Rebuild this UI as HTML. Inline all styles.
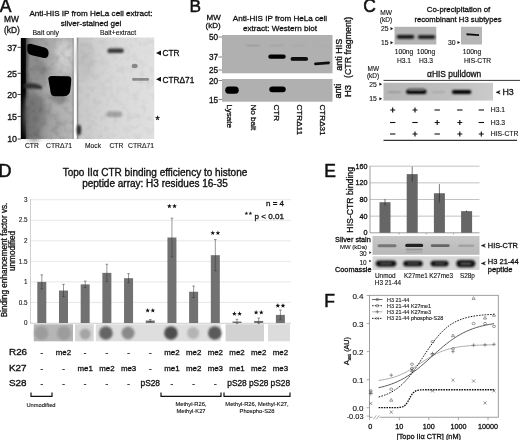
<!DOCTYPE html>
<html><head><meta charset="utf-8"><style>
html,body{margin:0;padding:0;background:#fff;width:520px;height:440px;overflow:hidden}
svg{display:block;will-change:transform}
text{font-family:"Liberation Sans",sans-serif;stroke:#111}
</style></head><body>
<svg width="520" height="440" viewBox="0 0 520 440">
<defs>
<filter id="b1" x="-50%" y="-50%" width="200%" height="200%"><feGaussianBlur stdDeviation="1.2"/></filter>
<filter id="b2" x="-50%" y="-50%" width="200%" height="200%"><feGaussianBlur stdDeviation="0.6"/></filter>
<filter id="b3" x="-50%" y="-50%" width="200%" height="200%"><feGaussianBlur stdDeviation="2.5"/></filter>
<filter id="b4" x="-50%" y="-50%" width="200%" height="200%"><feGaussianBlur stdDeviation="0.9"/></filter>
<linearGradient id="gA1" x1="0" x2="1" y1="0" y2="0"><stop offset="0" stop-color="#000"/><stop offset="0.085" stop-color="#080808"/><stop offset="0.11" stop-color="#5a5a5a"/><stop offset="0.17" stop-color="#8a8a8a"/><stop offset="0.35" stop-color="#9c9c9c"/><stop offset="0.6" stop-color="#adadad"/><stop offset="0.96" stop-color="#b6b6b6"/><stop offset="1" stop-color="#8a8a8a"/></linearGradient>
<linearGradient id="gA2" x1="0" x2="1" y1="0" y2="0"><stop offset="0" stop-color="#777"/><stop offset="0.03" stop-color="#c8c8c8"/><stop offset="0.5" stop-color="#d8d8d8"/><stop offset="1" stop-color="#e0e0e0"/></linearGradient>
<filter id="tex" x="0" y="0" width="100%" height="100%"><feTurbulence type="fractalNoise" baseFrequency="0.15" numOctaves="2" seed="7" result="n"/><feColorMatrix in="n" type="matrix" values="0 0 0 0 0  0 0 0 0 0  0 0 0 0 0  0 0 0 -1.6 0.9"/><feComposite in2="SourceGraphic" operator="in"/></filter>
<linearGradient id="gC2" x1="0" x2="1" y1="0" y2="0"><stop offset="0" stop-color="#b6b6b6"/><stop offset="0.6" stop-color="#bfbfbf"/><stop offset="1" stop-color="#cbcbcb"/></linearGradient>
<linearGradient id="gE1" x1="0" x2="0" y1="0" y2="1"><stop offset="0" stop-color="#c8c8c8"/><stop offset="1" stop-color="#b8b8b8"/></linearGradient>
</defs>
<text x="-0.2" y="12.2" font-size="17.5" text-anchor="start" fill="#111" stroke-width="0.5" >A</text>
<text x="189.6" y="12.3" font-size="17.3" text-anchor="start" fill="#111" stroke-width="0.5" >B</text>
<text x="363.3" y="12.3" font-size="17.5" text-anchor="start" fill="#111" stroke-width="0.5" >C</text>
<text x="-1.6" y="176.8" font-size="18" text-anchor="start" fill="#111" stroke-width="0.5" >D</text>
<text x="324.3" y="176.8" font-size="17.5" text-anchor="start" fill="#111" stroke-width="0.5" >E</text>
<text x="324.3" y="307.3" font-size="17.5" text-anchor="start" fill="#111" stroke-width="0.5" >F</text>
<text x="4" y="21.5" font-size="8.4" text-anchor="start" fill="#111" stroke-width="0.3" >MW</text>
<text x="4" y="33.3" font-size="8.4" text-anchor="start" fill="#111" stroke-width="0.3" >(kD)</text>
<text x="91" y="16.2" font-size="8.1" text-anchor="middle" fill="#111" stroke-width="0.3" >Anti-HIS IP from HeLa cell extract:</text>
<text x="91" y="25.8" font-size="8.1" text-anchor="middle" fill="#111" stroke-width="0.3" >silver-stained gel</text>
<text x="32.5" y="34.7" font-size="6.9" text-anchor="start" fill="#111" stroke-width="0.12" >Bait only</text>
<text x="100" y="34.7" font-size="6.8" text-anchor="start" fill="#111" stroke-width="0.12" >Bait+extract</text>
<rect x="20.8" y="38" width="53" height="101" fill="url(#gA1)"/>
<ellipse cx="34" cy="118" rx="11" ry="24" fill="#666" filter="url(#b3)" opacity="0.65"/>
<ellipse cx="38" cy="72" rx="9" ry="12" fill="#888" filter="url(#b3)" opacity="0.5"/>
<ellipse cx="50" cy="125" rx="12" ry="14" fill="#999" filter="url(#b3)" opacity="0.5"/>
<ellipse cx="64" cy="60" rx="8" ry="14" fill="#ddd" filter="url(#b3)" opacity="0.5"/>
<ellipse cx="42" cy="68" rx="3.5" ry="10" fill="#777" filter="url(#b3)" opacity="0.5" transform="rotate(-20 42 68)"/>
<ellipse cx="30" cy="100" rx="5" ry="8" fill="#777" filter="url(#b3)" opacity="0.5"/>
<path d="M24,84 Q34,82 42,86 L42,89 Q34,89 24,88 Z" fill="#333" filter="url(#b4)"/>
<path d="M27.3,46 Q27.3,43.6 30.5,43.8 L44.5,47.5 Q48.6,48.8 48.6,53 Q48.6,58.3 44,58 L33,55.5 Q27.3,54.3 27.3,50.5 Z" fill="#000" filter="url(#b2)"/>
<ellipse cx="64" cy="50" rx="9" ry="10" fill="#e0e0e0" filter="url(#b3)" opacity="0.45"/>
<ellipse cx="59" cy="98" rx="9" ry="5" fill="#666" filter="url(#b3)" opacity="0.6"/>
<ellipse cx="36" cy="112" rx="12" ry="18" fill="#777" filter="url(#b3)" opacity="0.35"/>
<path d="M48.3,79 Q48.3,76 52,76 L68,76.3 Q71.4,76.4 71.3,80 L70.6,88 Q70.2,96.3 64,96.3 L55,96.3 Q50.2,96.3 50.2,89.5 Z" fill="#000" filter="url(#b2)"/>
<rect x="76.8" y="37.5" width="77.5" height="101.5" fill="url(#gA2)"/>
<ellipse cx="85" cy="60" rx="10" ry="20" fill="#bbb" filter="url(#b3)" opacity="0.6"/>
<ellipse cx="79" cy="130" rx="2.3" ry="5.5" fill="#333" filter="url(#b4)"/>
<rect x="107.35" y="48.50" width="16.50" height="4.60" rx="2.30" fill="#3a3a3a" filter="url(#b4)"/>
<rect x="106.30" y="111.30" width="16.00" height="6.00" rx="3.00" fill="#a6a6a6" filter="url(#b1)"/>
<rect x="132.00" y="78.10" width="17.00" height="2.60" rx="1.30" fill="#8c8c8c" filter="url(#b2)"/>
<ellipse cx="134.7" cy="66" rx="3" ry="2.2" fill="#888" filter="url(#b2)"/>
<rect x="24" y="38" width="49" height="101" fill="#000" filter="url(#tex)" opacity="0.16"/>
<rect x="78" y="38" width="76" height="101" fill="#000" filter="url(#tex)" opacity="0.07"/>
<text x="17" y="50.5" font-size="8.9" text-anchor="end" fill="#111" stroke-width="0.3" >37</text>
<line x1="17.6" y1="47.3" x2="20.8" y2="47.3" stroke="#111" stroke-width="0.8"/>
<text x="17" y="76.5" font-size="8.9" text-anchor="end" fill="#111" stroke-width="0.3" >25</text>
<line x1="17.6" y1="73.3" x2="20.8" y2="73.3" stroke="#111" stroke-width="0.8"/>
<text x="17" y="97.7" font-size="8.9" text-anchor="end" fill="#111" stroke-width="0.3" >20</text>
<line x1="17.6" y1="94.5" x2="20.8" y2="94.5" stroke="#111" stroke-width="0.8"/>
<text x="17" y="119.7" font-size="8.9" text-anchor="end" fill="#111" stroke-width="0.3" >15</text>
<line x1="17.6" y1="116.5" x2="20.8" y2="116.5" stroke="#111" stroke-width="0.8"/>
<text x="17" y="142.2" font-size="8.9" text-anchor="end" fill="#111" stroke-width="0.3" >10</text>
<line x1="17.6" y1="139" x2="20.8" y2="139" stroke="#111" stroke-width="0.8"/>
<text x="25" y="148.3" font-size="6.7" text-anchor="start" fill="#111" stroke-width="0.12" >CTR</text>
<text x="46" y="148.3" font-size="6.8" text-anchor="start" fill="#111" stroke-width="0.12" >CTRΔ71</text>
<text x="85" y="148.3" font-size="6.7" text-anchor="start" fill="#111" stroke-width="0.12" >Mock</text>
<text x="109.5" y="148.3" font-size="6.7" text-anchor="start" fill="#111" stroke-width="0.12" >CTR</text>
<text x="128" y="148.3" font-size="6.8" text-anchor="start" fill="#111" stroke-width="0.12" >CTRΔ71</text>
<path d="M156,53 L161,50.5 L161,55.5 Z" fill="#111"/>
<text x="162.5" y="56" font-size="8.3" text-anchor="start" fill="#111" stroke-width="0.3" >CTR</text>
<path d="M156,79.3 L161,76.8 L161,81.8 Z" fill="#111"/>
<text x="162.5" y="82.5" font-size="8.3" text-anchor="start" fill="#111" stroke-width="0.3" >CTRΔ71</text>
<text x="155.5" y="124" font-size="10.5" text-anchor="start" fill="#111" stroke-width="0.35" >*</text>
<text x="206.5" y="19.6" font-size="8.0" text-anchor="start" fill="#111" stroke-width="0.3" >MW</text>
<text x="205.6" y="28.4" font-size="8.0" text-anchor="start" fill="#111" stroke-width="0.3" >(kD)</text>
<text x="280" y="21.3" font-size="8.1" text-anchor="middle" fill="#111" stroke-width="0.3" >Anti-HIS IP from HeLa cell</text>
<text x="280" y="30.8" font-size="8.1" text-anchor="middle" fill="#111" stroke-width="0.3" >extract: Western blot</text>
<rect x="222" y="35" width="110.5" height="38.3" fill="#b0b0b0"/>
<rect x="222" y="79" width="110.5" height="22.7" fill="#b0b0b0"/>
<text x="218" y="40" font-size="8.2" text-anchor="end" fill="#111" stroke-width="0.3" >50</text>
<line x1="218.5" y1="37" x2="222" y2="37" stroke="#333" stroke-width="0.6"/>
<text x="218" y="60" font-size="8.2" text-anchor="end" fill="#111" stroke-width="0.3" >37</text>
<line x1="218.5" y1="57" x2="222" y2="57" stroke="#333" stroke-width="0.6"/>
<text x="218" y="73" font-size="8.2" text-anchor="end" fill="#111" stroke-width="0.3" >25</text>
<line x1="218.5" y1="70" x2="222" y2="70" stroke="#333" stroke-width="0.6"/>
<text x="218" y="83.5" font-size="8.2" text-anchor="end" fill="#111" stroke-width="0.3" >20</text>
<line x1="218.5" y1="80.5" x2="222" y2="80.5" stroke="#333" stroke-width="0.6"/>
<text x="218" y="102.5" font-size="8.2" text-anchor="end" fill="#111" stroke-width="0.3" >15</text>
<line x1="218.5" y1="99.5" x2="222" y2="99.5" stroke="#333" stroke-width="0.6"/>
<rect x="268.25" y="54.55" width="17.50" height="4.30" rx="2.15" fill="#050505" filter="url(#b2)"/>
<rect x="290.55" y="57.00" width="17.50" height="3.80" rx="1.90" fill="#080808" filter="url(#b2)"/>
<path d="M315,62.6 L329,61.6 Q331,62.6 329,64.2 L315,65.2 Q313,63.9 315,62.6 Z" fill="#111" filter="url(#b2)"/>
<rect x="246.00" y="44.80" width="14.00" height="1.40" rx="0.70" fill="#959595" filter="url(#b4)"/>
<rect x="270.00" y="44.85" width="14.00" height="1.30" rx="0.65" fill="#a0a0a0" filter="url(#b4)"/>
<rect x="292.50" y="44.90" width="14.00" height="1.20" rx="0.60" fill="#a6a6a6" filter="url(#b4)"/>
<rect x="315.00" y="44.90" width="14.00" height="1.20" rx="0.60" fill="#aaaaaa" filter="url(#b4)"/>
<rect x="225.25" y="86.60" width="13.50" height="7.20" rx="3.60" fill="#000" filter="url(#b2)"/>
<rect x="269.25" y="86.40" width="16.50" height="5.80" rx="2.90" fill="#000" filter="url(#b2)"/>
<text x="0" y="0" font-size="8.1" fill="#111" text-anchor="start" stroke-width="0.3" transform="translate(227.3,104.5) rotate(90)">Lysate</text>
<text x="0" y="0" font-size="8.1" fill="#111" text-anchor="start" stroke-width="0.3" transform="translate(250.8,104.5) rotate(90)">No bait</text>
<text x="0" y="0" font-size="8.1" fill="#111" text-anchor="start" stroke-width="0.3" transform="translate(274.2,104.5) rotate(90)">CTR</text>
<text x="0" y="0" font-size="8.1" fill="#111" text-anchor="start" stroke-width="0.3" transform="translate(297.3,104.5) rotate(90)">CTRΔ11</text>
<text x="0" y="0" font-size="8.1" fill="#111" text-anchor="start" stroke-width="0.3" transform="translate(320.3,104.5) rotate(90)">CTRΔ31</text>
<text x="0" y="0" font-size="9.0" fill="#111" text-anchor="middle" stroke-width="0.35" transform="translate(341.7,54.7) rotate(-90)">anti HIS</text>
<text x="0" y="0" font-size="8.8" fill="#111" text-anchor="middle" stroke-width="0.3" transform="translate(350.5,47.4) rotate(-90)">(CTR fragment)</text>
<text x="0" y="0" font-size="9.2" fill="#111" text-anchor="middle" stroke-width="0.35" transform="translate(341.3,91.2) rotate(-90)">anti</text>
<text x="0" y="0" font-size="9.5" fill="#111" text-anchor="middle" stroke-width="0.35" transform="translate(351,91) rotate(-90)">H3</text>
<text x="380.3" y="14.7" font-size="6.6" text-anchor="start" fill="#111" stroke-width="0.12" >MW</text>
<text x="379.8" y="22.3" font-size="6.6" text-anchor="start" fill="#111" stroke-width="0.12" >(kD)</text>
<text x="458.5" y="12.3" font-size="7.8" text-anchor="middle" fill="#111" stroke-width="0.3" >Co-precipitation of</text>
<text x="458" y="22" font-size="7.7" text-anchor="middle" fill="#111" stroke-width="0.3" >recombinant H3 subtypes</text>
<rect x="394.5" y="26.8" width="41.8" height="17.7" fill="#b4b4b4"/>
<rect x="396.75" y="35.10" width="17.50" height="3.60" rx="1.80" fill="#0a0a0a" filter="url(#b4)"/>
<rect x="417.75" y="35.15" width="17.50" height="3.50" rx="1.75" fill="#0a0a0a" filter="url(#b4)"/>
<rect x="461" y="26.8" width="21" height="17.7" fill="#b6b6b6"/>
<path d="M466.5,33.2 L479,34.2 L479,36 L466.5,35.2 Z" fill="#111" filter="url(#b2)"/>
<text x="388.5" y="31.0" font-size="6.8" text-anchor="end" fill="#111" stroke-width="0.12" >25</text>
<path d="M390.5,27.085 L393.16,28.7 L390.5,30.314999999999998 Z" fill="#111"/>
<text x="388.5" y="45.0" font-size="6.8" text-anchor="end" fill="#111" stroke-width="0.12" >15</text>
<path d="M390.5,41.085 L393.16,42.7 L390.5,44.315000000000005 Z" fill="#111"/>
<text x="455.5" y="45" font-size="6.8" text-anchor="end" fill="#111" stroke-width="0.12" >30</text>
<path d="M457.5,40.885 L460.16,42.5 L457.5,44.115 Z" fill="#111"/>
<text x="404" y="54.2" font-size="6.7" text-anchor="middle" fill="#111" stroke-width="0.12" >100ng</text>
<text x="404" y="62.5" font-size="6.7" text-anchor="middle" fill="#111" stroke-width="0.12" >H3.1</text>
<text x="426" y="54.2" font-size="6.7" text-anchor="middle" fill="#111" stroke-width="0.12" >100ng</text>
<text x="426" y="62.5" font-size="6.7" text-anchor="middle" fill="#111" stroke-width="0.12" >H3.3</text>
<text x="472" y="54.2" font-size="6.7" text-anchor="middle" fill="#111" stroke-width="0.12" >100ng</text>
<text x="477.5" y="62.5" font-size="6.7" text-anchor="middle" fill="#111" stroke-width="0.12" >HIS-CTR</text>
<text x="367.6" y="70.9" font-size="6.5" text-anchor="start" fill="#111" stroke-width="0.12" >MW</text>
<text x="366.9" y="78.2" font-size="6.5" text-anchor="start" fill="#111" stroke-width="0.12" >(kD)</text>
<text x="454.2" y="77" font-size="8.4" text-anchor="middle" fill="#111" stroke-width="0.3" >αHIS pulldown</text>
<line x1="383.5" y1="80.4" x2="520" y2="80.4" stroke="#222" stroke-width="0.9"/>
<rect x="383.5" y="82.8" width="109.5" height="17.8" fill="url(#gC2)"/>
<rect x="387.80" y="91.50" width="13.00" height="1.60" rx="0.80" fill="#909090" filter="url(#b4)"/>
<rect x="406.05" y="89.50" width="20.50" height="4.60" rx="2.30" fill="#000" filter="url(#b4)"/>
<rect x="408.30" y="88.25" width="16.00" height="2.50" rx="1.25" fill="#777" filter="url(#b4)"/>
<rect x="432.00" y="91.55" width="13.00" height="1.50" rx="0.75" fill="#a2a2a2" filter="url(#b4)"/>
<rect x="451.85" y="89.90" width="19.50" height="4.00" rx="2.00" fill="#000" filter="url(#b4)"/>
<text x="376.8" y="87" font-size="6.8" text-anchor="end" fill="#111" stroke-width="0.12" >25</text>
<path d="M379.4,82.58500000000001 L382.06,84.2 L379.4,85.815 Z" fill="#111"/>
<text x="376.8" y="101.3" font-size="6.8" text-anchor="end" fill="#111" stroke-width="0.12" >15</text>
<path d="M379.4,97.185 L382.06,98.8 L379.4,100.41499999999999 Z" fill="#111"/>
<path d="M496,92.3 L500.2,90.6 L499,92.3 L500.2,94 Z" fill="#111" stroke="#111" stroke-width="0.45"/>
<text x="502.4" y="94.9" font-size="8.9" text-anchor="start" fill="#111" stroke-width="0.3" >H3</text>
<path d="M390.2,110 H395.2 M392.7,107.5 V112.5" stroke="#111" stroke-width="1.15"/>
<path d="M412.5,110 H417.5 M415,107.5 V112.5" stroke="#111" stroke-width="1.15"/>
<path d="M434.5,110 H439.9" stroke="#111" stroke-width="1.1"/>
<path d="M457.1,110 H462.5" stroke="#111" stroke-width="1.1"/>
<path d="M478.6,110 H484.0" stroke="#111" stroke-width="1.1"/>
<text x="490.8" y="112.2" font-size="6.8" text-anchor="start" fill="#111" stroke-width="0.12" >H3.1</text>
<path d="M390.0,122.5 H395.4" stroke="#111" stroke-width="1.1"/>
<path d="M412.3,122.5 H417.7" stroke="#111" stroke-width="1.1"/>
<path d="M434.7,122.5 H439.7 M437.2,120.0 V125.0" stroke="#111" stroke-width="1.15"/>
<path d="M457.3,122.5 H462.3 M459.8,120.0 V125.0" stroke="#111" stroke-width="1.15"/>
<path d="M478.6,122.5 H484.0" stroke="#111" stroke-width="1.1"/>
<text x="490.8" y="124.7" font-size="6.8" text-anchor="start" fill="#111" stroke-width="0.12" >H3.3</text>
<path d="M390.0,134 H395.4" stroke="#111" stroke-width="1.1"/>
<path d="M412.5,134 H417.5 M415,131.5 V136.5" stroke="#111" stroke-width="1.15"/>
<path d="M434.5,134 H439.9" stroke="#111" stroke-width="1.1"/>
<path d="M457.3,134 H462.3 M459.8,131.5 V136.5" stroke="#111" stroke-width="1.15"/>
<path d="M478.8,134 H483.8 M481.3,131.5 V136.5" stroke="#111" stroke-width="1.15"/>
<text x="490.8" y="136.2" font-size="6.8" text-anchor="start" fill="#111" stroke-width="0.12" >HIS-CTR</text>
<line x1="383.5" y1="140.4" x2="517" y2="140.4" stroke="#333" stroke-width="1.1"/>
<text x="155" y="175.5" font-size="10.0" text-anchor="middle" fill="#111" stroke-width="0.35" >Topo IIα CTR binding efficiency to histone</text>
<text x="155" y="187.3" font-size="10.0" text-anchor="middle" fill="#111" stroke-width="0.35" >peptide array: H3 residues 16-35</text>
<text x="27.5" y="325.2" font-size="6.3" text-anchor="end" fill="#222" stroke-width="0.12" >0</text>
<line x1="30.5" y1="302.45" x2="291" y2="302.45" stroke="#dcdcdc" stroke-width="0.7"/>
<text x="27.5" y="304.65" font-size="6.3" text-anchor="end" fill="#222" stroke-width="0.12" >0.5</text>
<line x1="30.5" y1="281.9" x2="291" y2="281.9" stroke="#dcdcdc" stroke-width="0.7"/>
<text x="27.5" y="284.09999999999997" font-size="6.3" text-anchor="end" fill="#222" stroke-width="0.12" >1</text>
<line x1="30.5" y1="261.35" x2="291" y2="261.35" stroke="#dcdcdc" stroke-width="0.7"/>
<text x="27.5" y="263.55" font-size="6.3" text-anchor="end" fill="#222" stroke-width="0.12" >1.5</text>
<line x1="30.5" y1="240.8" x2="291" y2="240.8" stroke="#dcdcdc" stroke-width="0.7"/>
<text x="27.5" y="243.0" font-size="6.3" text-anchor="end" fill="#222" stroke-width="0.12" >2</text>
<line x1="30.5" y1="220.25" x2="291" y2="220.25" stroke="#dcdcdc" stroke-width="0.7"/>
<text x="27.5" y="222.45" font-size="6.3" text-anchor="end" fill="#222" stroke-width="0.12" >2.5</text>
<line x1="30.5" y1="199.7" x2="291" y2="199.7" stroke="#dcdcdc" stroke-width="0.7"/>
<text x="27.5" y="201.89999999999998" font-size="6.3" text-anchor="end" fill="#222" stroke-width="0.12" >3</text>
<line x1="30.5" y1="199" x2="30.5" y2="323.5" stroke="#bbb" stroke-width="0.7"/>
<line x1="30.5" y1="323.3" x2="291" y2="323.3" stroke="#bbb" stroke-width="0.7"/>
<text x="0" y="0" font-size="8.2" fill="#111" text-anchor="middle" stroke-width="0.3" transform="translate(6.6,260) rotate(-90)">Binding enhancement factor vs.</text>
<text x="0" y="0" font-size="8.2" fill="#111" text-anchor="middle" stroke-width="0.3" transform="translate(15.0,251) rotate(-90)">unmodified</text>
<rect x="37.30" y="281.90" width="9" height="41.10" fill="#717171"/>
<path d="M41.80,274.91 V288.89 M40.50,274.91 H43.10 M40.50,288.89 H43.10" stroke="#333" stroke-width="0.5"/>
<rect x="58.99" y="290.53" width="9" height="32.47" fill="#717171"/>
<path d="M63.49,284.37 V296.70 M62.19,284.37 H64.79 M62.19,296.70 H64.79" stroke="#333" stroke-width="0.5"/>
<rect x="80.68" y="284.37" width="9" height="38.63" fill="#717171"/>
<path d="M85.18,281.08 V287.65 M83.88,281.08 H86.48 M83.88,287.65 H86.48" stroke="#333" stroke-width="0.5"/>
<rect x="102.37" y="272.86" width="9" height="50.14" fill="#717171"/>
<path d="M106.87,264.23 V281.49 M105.57,264.23 H108.17 M105.57,281.49 H108.17" stroke="#333" stroke-width="0.5"/>
<rect x="124.06" y="278.20" width="9" height="44.80" fill="#717171"/>
<path d="M128.56,273.68 V282.72 M127.26,273.68 H129.86 M127.26,282.72 H129.86" stroke="#333" stroke-width="0.5"/>
<rect x="145.75" y="320.53" width="9" height="2.47" fill="#717171"/>
<path d="M150.25,319.51 V321.56 M148.95,319.51 H151.55 M148.95,321.56 H151.55" stroke="#333" stroke-width="0.5"/>
<polygon points="147.65,308.05 148.27,309.65 149.98,309.74 148.65,310.82 149.09,312.48 147.65,311.55 146.21,312.48 146.65,310.82 145.32,309.74 147.03,309.65" fill="#111"/>
<polygon points="152.85,308.05 153.47,309.65 155.18,309.74 153.85,310.82 154.29,312.48 152.85,311.55 151.41,312.48 151.85,310.82 150.52,309.74 152.23,309.65" fill="#111"/>
<rect x="167.44" y="237.51" width="9" height="85.49" fill="#717171"/>
<path d="M171.94,218.19 V256.83 M170.64,218.19 H173.24 M170.64,256.83 H173.24" stroke="#333" stroke-width="0.5"/>
<polygon points="169.34,203.75 169.96,205.35 171.67,205.44 170.34,206.52 170.78,208.18 169.34,207.25 167.90,208.18 168.34,206.52 167.01,205.44 168.72,205.35" fill="#111"/>
<polygon points="174.54,203.75 175.16,205.35 176.87,205.44 175.54,206.52 175.98,208.18 174.54,207.25 173.10,208.18 173.54,206.52 172.21,205.44 173.92,205.35" fill="#111"/>
<rect x="189.13" y="291.76" width="9" height="31.24" fill="#717171"/>
<path d="M193.63,286.01 V297.52 M192.33,286.01 H194.93 M192.33,297.52 H194.93" stroke="#333" stroke-width="0.5"/>
<rect x="210.82" y="255.19" width="9" height="67.81" fill="#717171"/>
<path d="M215.32,239.57 V270.80 M214.02,239.57 H216.62 M214.02,270.80 H216.62" stroke="#333" stroke-width="0.5"/>
<polygon points="212.72,230.55 213.34,232.15 215.05,232.24 213.72,233.32 214.16,234.98 212.72,234.05 211.28,234.98 211.72,233.32 210.39,232.24 212.10,232.15" fill="#111"/>
<polygon points="217.92,230.55 218.54,232.15 220.25,232.24 218.92,233.32 219.36,234.98 217.92,234.05 216.48,234.98 216.92,233.32 215.59,232.24 217.30,232.15" fill="#111"/>
<rect x="232.51" y="321.56" width="9" height="1.44" fill="#717171"/>
<path d="M237.01,319.30 V323.82 M235.71,319.30 H238.31 M235.71,323.82 H238.31" stroke="#333" stroke-width="0.5"/>
<polygon points="234.41,311.35 235.03,312.95 236.74,313.04 235.41,314.12 235.85,315.78 234.41,314.85 232.97,315.78 233.41,314.12 232.08,313.04 233.79,312.95" fill="#111"/>
<polygon points="239.61,311.35 240.23,312.95 241.94,313.04 240.61,314.12 241.05,315.78 239.61,314.85 238.17,315.78 238.61,314.12 237.28,313.04 238.99,312.95" fill="#111"/>
<rect x="254.20" y="320.94" width="9" height="2.06" fill="#717171"/>
<path d="M258.70,318.07 V323.82 M257.40,318.07 H260.00 M257.40,323.82 H260.00" stroke="#333" stroke-width="0.5"/>
<polygon points="256.10,310.05 256.72,311.65 258.43,311.74 257.10,312.82 257.54,314.48 256.10,313.55 254.66,314.48 255.10,312.82 253.77,311.74 255.48,311.65" fill="#111"/>
<polygon points="261.30,310.05 261.92,311.65 263.63,311.74 262.30,312.82 262.74,314.48 261.30,313.55 259.86,314.48 260.30,312.82 258.97,311.74 260.68,311.65" fill="#111"/>
<rect x="275.89" y="314.90" width="9" height="8.10" fill="#717171"/>
<path d="M280.39,309.97 V319.84 M279.09,309.97 H281.69 M279.09,319.84 H281.69" stroke="#333" stroke-width="0.5"/>
<polygon points="277.79,303.25 278.41,304.85 280.12,304.94 278.79,306.02 279.23,307.68 277.79,306.75 276.35,307.68 276.79,306.02 275.46,304.94 277.17,304.85" fill="#111"/>
<polygon points="282.99,303.25 283.61,304.85 285.32,304.94 283.99,306.02 284.43,307.68 282.99,306.75 281.55,307.68 281.99,306.02 280.66,304.94 282.37,304.85" fill="#111"/>
<text x="284" y="205.8" font-size="8" text-anchor="end" fill="#111" stroke-width="0.3" >n = 4</text>
<text x="284" y="218.8" font-size="8.1" text-anchor="end" fill="#111" stroke-width="0.3" >p &lt; 0.01</text>
<polygon points="246.40,211.50 246.87,212.75 248.21,212.81 247.16,213.65 247.52,214.94 246.40,214.20 245.28,214.94 245.64,213.65 244.59,212.81 245.93,212.75" fill="#111"/>
<polygon points="250.40,211.50 250.87,212.75 252.21,212.81 251.16,213.65 251.52,214.94 250.40,214.20 249.28,214.94 249.64,213.65 248.59,212.81 249.93,212.75" fill="#111"/>
<rect x="33.75" y="324.3" width="39.25" height="17" fill="#b6b6b6"/>
<rect x="75" y="324.3" width="18.75" height="17" fill="#d6d6d6"/>
<rect x="95.75" y="324.3" width="124.95" height="17" fill="#dedede"/>
<rect x="225.6" y="324.3" width="38.40" height="17" fill="#d2d2d2"/>
<rect x="268" y="324.3" width="22.00" height="17" fill="#dcdcdc"/>
<circle cx="41.30" cy="333" r="7" fill="#9c9c9c" filter="url(#b1)"/>
<circle cx="63.99" cy="333" r="7" fill="#9c9c9c" filter="url(#b1)"/>
<circle cx="85.18" cy="334" r="5.5" fill="#a4a4a4" filter="url(#b1)"/>
<circle cx="105.87" cy="333" r="6.8" fill="#656565" filter="url(#b1)"/>
<circle cx="128.06" cy="333" r="6.5" fill="#8a8a8a" filter="url(#b1)"/>
<circle cx="170.94" cy="333" r="6.8" fill="#4e4e4e" filter="url(#b1)"/>
<circle cx="193.13" cy="333" r="6" fill="#b4b4b4" filter="url(#b1)"/>
<circle cx="214.82" cy="333" r="6.8" fill="#5a5a5a" filter="url(#b1)"/>
<text x="9" y="354.5" font-size="9.9" text-anchor="start" fill="#111" stroke-width="0.35" >R26</text>
<text x="41.8" y="354.5" font-size="7.9" text-anchor="middle" fill="#111" stroke-width="0.3" >-</text>
<text x="63.489999999999995" y="354.5" font-size="7.9" text-anchor="middle" fill="#111" stroke-width="0.3" >me2</text>
<text x="85.18" y="354.5" font-size="7.9" text-anchor="middle" fill="#111" stroke-width="0.3" >-</text>
<text x="106.87" y="354.5" font-size="7.9" text-anchor="middle" fill="#111" stroke-width="0.3" >-</text>
<text x="128.56" y="354.5" font-size="7.9" text-anchor="middle" fill="#111" stroke-width="0.3" >-</text>
<text x="150.25" y="354.5" font-size="7.9" text-anchor="middle" fill="#111" stroke-width="0.3" >-</text>
<text x="171.94" y="354.5" font-size="7.9" text-anchor="middle" fill="#111" stroke-width="0.3" >me2</text>
<text x="193.63" y="354.5" font-size="7.9" text-anchor="middle" fill="#111" stroke-width="0.3" >me2</text>
<text x="215.32" y="354.5" font-size="7.9" text-anchor="middle" fill="#111" stroke-width="0.3" >me2</text>
<text x="237.01" y="354.5" font-size="7.9" text-anchor="middle" fill="#111" stroke-width="0.3" >me2</text>
<text x="258.7" y="354.5" font-size="7.9" text-anchor="middle" fill="#111" stroke-width="0.3" >me2</text>
<text x="280.39" y="354.5" font-size="7.9" text-anchor="middle" fill="#111" stroke-width="0.3" >me2</text>
<text x="9" y="371.0" font-size="9.9" text-anchor="start" fill="#111" stroke-width="0.35" >K27</text>
<text x="41.8" y="371.0" font-size="7.9" text-anchor="middle" fill="#111" stroke-width="0.3" >-</text>
<text x="63.489999999999995" y="371.0" font-size="7.9" text-anchor="middle" fill="#111" stroke-width="0.3" >-</text>
<text x="85.18" y="371.0" font-size="7.9" text-anchor="middle" fill="#111" stroke-width="0.3" >me1</text>
<text x="106.87" y="371.0" font-size="7.9" text-anchor="middle" fill="#111" stroke-width="0.3" >me2</text>
<text x="128.56" y="371.0" font-size="7.9" text-anchor="middle" fill="#111" stroke-width="0.3" >me3</text>
<text x="150.25" y="371.0" font-size="7.9" text-anchor="middle" fill="#111" stroke-width="0.3" >-</text>
<text x="171.94" y="371.0" font-size="7.9" text-anchor="middle" fill="#111" stroke-width="0.3" >me1</text>
<text x="193.63" y="371.0" font-size="7.9" text-anchor="middle" fill="#111" stroke-width="0.3" >me2</text>
<text x="215.32" y="371.0" font-size="7.9" text-anchor="middle" fill="#111" stroke-width="0.3" >me3</text>
<text x="237.01" y="371.0" font-size="7.9" text-anchor="middle" fill="#111" stroke-width="0.3" >me1</text>
<text x="258.7" y="371.0" font-size="7.9" text-anchor="middle" fill="#111" stroke-width="0.3" >me2</text>
<text x="280.39" y="371.0" font-size="7.9" text-anchor="middle" fill="#111" stroke-width="0.3" >me3</text>
<text x="9" y="386.2" font-size="9.9" text-anchor="start" fill="#111" stroke-width="0.35" >S28</text>
<text x="41.8" y="386.2" font-size="7.9" text-anchor="middle" fill="#111" stroke-width="0.3" >-</text>
<text x="63.489999999999995" y="386.2" font-size="7.9" text-anchor="middle" fill="#111" stroke-width="0.3" >-</text>
<text x="85.18" y="386.2" font-size="7.9" text-anchor="middle" fill="#111" stroke-width="0.3" >-</text>
<text x="106.87" y="386.2" font-size="7.9" text-anchor="middle" fill="#111" stroke-width="0.3" >-</text>
<text x="128.56" y="386.2" font-size="7.9" text-anchor="middle" fill="#111" stroke-width="0.3" >-</text>
<text x="150.25" y="386.2" font-size="8.4" text-anchor="middle" fill="#111" stroke-width="0.3" >pS28</text>
<text x="171.94" y="386.2" font-size="7.9" text-anchor="middle" fill="#111" stroke-width="0.3" >-</text>
<text x="193.63" y="386.2" font-size="7.9" text-anchor="middle" fill="#111" stroke-width="0.3" >-</text>
<text x="215.32" y="386.2" font-size="7.9" text-anchor="middle" fill="#111" stroke-width="0.3" >-</text>
<text x="237.01" y="386.2" font-size="8.4" text-anchor="middle" fill="#111" stroke-width="0.3" >pS28</text>
<text x="258.7" y="386.2" font-size="8.4" text-anchor="middle" fill="#111" stroke-width="0.3" >pS28</text>
<text x="280.39" y="386.2" font-size="8.4" text-anchor="middle" fill="#111" stroke-width="0.3" >pS28</text>
<path d="M31,392.6 V396.40000000000003 H52 V392.6" fill="none" stroke="#111" stroke-width="1.2"/>
<path d="M161,392.6 V396.40000000000003 H221 V392.6" fill="none" stroke="#111" stroke-width="1.2"/>
<path d="M224,392.6 V396.40000000000003 H290 V392.6" fill="none" stroke="#111" stroke-width="1.2"/>
<text x="41" y="406.5" font-size="5.75" text-anchor="middle" fill="#111" stroke-width="0.12" >Unmodified</text>
<text x="191" y="406" font-size="5.75" text-anchor="middle" fill="#111" stroke-width="0.12" >Methyl-R26,</text>
<text x="191" y="413" font-size="5.75" text-anchor="middle" fill="#111" stroke-width="0.12" >Methyl-K27</text>
<text x="257" y="406" font-size="5.75" text-anchor="middle" fill="#111" stroke-width="0.12" >Methyl-R26, Methyl-K27,</text>
<text x="257" y="413" font-size="5.75" text-anchor="middle" fill="#111" stroke-width="0.12" >Phospho-S28</text>
<text x="367.5" y="235.4" font-size="7.2" text-anchor="end" fill="#111" stroke-width="0.3" >0</text>
<line x1="370" y1="216.15" x2="479.5" y2="216.15" stroke="#999" stroke-width="0.6"/>
<text x="367.5" y="218.75" font-size="7.2" text-anchor="end" fill="#111" stroke-width="0.3" >40</text>
<line x1="370" y1="199.50" x2="479.5" y2="199.50" stroke="#999" stroke-width="0.6"/>
<text x="367.5" y="202.1" font-size="7.2" text-anchor="end" fill="#111" stroke-width="0.3" >80</text>
<line x1="370" y1="182.85" x2="479.5" y2="182.85" stroke="#999" stroke-width="0.6"/>
<text x="367.5" y="185.45000000000002" font-size="7.2" text-anchor="end" fill="#111" stroke-width="0.3" >120</text>
<line x1="370" y1="166.20" x2="479.5" y2="166.20" stroke="#999" stroke-width="0.6"/>
<text x="367.5" y="168.8" font-size="7.2" text-anchor="end" fill="#111" stroke-width="0.3" >160</text>
<line x1="370" y1="166" x2="370" y2="232.8" stroke="#777" stroke-width="0.7"/>
<line x1="370" y1="232.8" x2="479.5" y2="232.8" stroke="#777" stroke-width="0.7"/>
<rect x="379.50" y="202.21" width="11" height="30.59" fill="#666"/>
<line x1="385.00" y1="198.88" x2="385.00" y2="205.54" stroke="#222" stroke-width="0.6"/>
<rect x="406.70" y="174.11" width="11" height="58.69" fill="#666"/>
<line x1="412.20" y1="166.62" x2="412.20" y2="181.60" stroke="#222" stroke-width="0.6"/>
<rect x="433.90" y="193.26" width="11" height="39.54" fill="#666"/>
<line x1="439.40" y1="184.10" x2="439.40" y2="202.41" stroke="#222" stroke-width="0.6"/>
<rect x="461.10" y="211.16" width="11" height="21.64" fill="#666"/>
<line x1="466.60" y1="210.32" x2="466.60" y2="211.99" stroke="#222" stroke-width="0.6"/>
<line x1="399.2" y1="232.8" x2="399.2" y2="234.4" stroke="#777" stroke-width="0.6"/>
<line x1="426.3" y1="232.8" x2="426.3" y2="234.4" stroke="#777" stroke-width="0.6"/>
<line x1="453.4" y1="232.8" x2="453.4" y2="234.4" stroke="#777" stroke-width="0.6"/>
<text x="0" y="0" font-size="8.7" fill="#111" text-anchor="middle" stroke-width="0.3" transform="translate(352.8,199.8) rotate(-90)">HIS-CTR binding</text>
<text x="370.8" y="241.8" font-size="7.3" text-anchor="end" fill="#111" stroke-width="0.3" >Silver stain</text>
<text x="367" y="249.3" font-size="6.0" text-anchor="end" fill="#111" stroke-width="0.12" >MW (kDa)</text>
<text x="366.5" y="256.2" font-size="6.4" text-anchor="end" fill="#111" stroke-width="0.12" >30</text>
<path d="M369.3,251.325 L371.40000000000003,252.6 L369.3,253.875 Z" fill="#111"/>
<text x="366.5" y="265" font-size="6.4" text-anchor="end" fill="#111" stroke-width="0.12" >10</text>
<path d="M369.3,259.725 L371.40000000000003,261 L369.3,262.275 Z" fill="#111"/>
<text x="371.5" y="272.3" font-size="7.3" text-anchor="end" fill="#111" stroke-width="0.3" >Coomassie</text>
<rect x="372.5" y="236" width="107" height="18.8" fill="url(#gE1)"/>
<rect x="372.5" y="256.3" width="107" height="13.7" fill="#d6d6d6"/>
<rect x="377.50" y="244.20" width="19.00" height="3.00" rx="1.50" fill="#777" filter="url(#b2)"/>
<rect x="405.20" y="243.80" width="18.00" height="3.20" rx="1.60" fill="#222" filter="url(#b2)"/>
<rect x="405.70" y="248.50" width="17.00" height="2.00" rx="1.00" fill="#999" filter="url(#b2)"/>
<rect x="405.70" y="251.50" width="17.00" height="1.60" rx="0.80" fill="#aaa" filter="url(#b2)"/>
<rect x="430.70" y="244.30" width="19.00" height="2.60" rx="1.30" fill="#666" filter="url(#b2)"/>
<rect x="458.20" y="244.60" width="16.00" height="2.40" rx="1.20" fill="#a2a2a2" filter="url(#b2)"/>
<rect x="375.75" y="260.50" width="20.50" height="6.20" rx="3.10" fill="#111" filter="url(#b4)"/>
<rect x="379.85" y="262.52" width="12.30" height="2.17" rx="1.08" fill="#555" filter="url(#b4)"/>
<rect x="403.25" y="260.70" width="19.50" height="5.80" rx="2.90" fill="#111" filter="url(#b4)"/>
<rect x="407.15" y="262.59" width="11.70" height="2.03" rx="1.01" fill="#555" filter="url(#b4)"/>
<rect x="430.60" y="260.80" width="18.00" height="5.60" rx="2.80" fill="#111" filter="url(#b4)"/>
<rect x="434.20" y="262.62" width="10.80" height="1.96" rx="0.98" fill="#555" filter="url(#b4)"/>
<rect x="456.30" y="259.90" width="19.00" height="7.40" rx="3.70" fill="#111" filter="url(#b4)"/>
<rect x="460.10" y="262.31" width="11.40" height="2.59" rx="1.29" fill="#555" filter="url(#b4)"/>
<path d="M481.2,245.6 L485.4,243.9 L484.2,245.6 L485.4,247.3 Z" fill="#111" stroke="#111" stroke-width="0.4"/>
<text x="487.8" y="248.0" font-size="7.4" text-anchor="start" fill="#111" stroke-width="0.3" >HIS-CTR</text>
<path d="M481.2,263.4 L485.4,261.7 L484.2,263.4 L485.4,265.1 Z" fill="#111" stroke="#111" stroke-width="0.4"/>
<text x="487.8" y="263.8" font-size="7.5" text-anchor="start" fill="#111" stroke-width="0.3" >H3 21-44</text>
<text x="487.8" y="272.3" font-size="7.5" text-anchor="start" fill="#111" stroke-width="0.3" >peptide</text>
<text x="375" y="277.6" font-size="6.4" text-anchor="start" fill="#111" stroke-width="0.12" >Unmod</text>
<text x="374.8" y="285.3" font-size="6.4" text-anchor="start" fill="#111" stroke-width="0.12" >H3 21-44</text>
<text x="404" y="277.6" font-size="6.4" text-anchor="start" fill="#111" stroke-width="0.12" >K27me1</text>
<text x="429.3" y="277.6" font-size="6.4" text-anchor="start" fill="#111" stroke-width="0.12" >K27me3</text>
<text x="460" y="277.6" font-size="6.4" text-anchor="start" fill="#111" stroke-width="0.12" >S28p</text>
<rect x="369.5" y="295.3" width="128.8" height="121.9" fill="none" stroke="#888" stroke-width="0.8"/>
<line x1="366.6" y1="295.50" x2="369.5" y2="295.50" stroke="#888" stroke-width="0.7"/>
<text x="363.5" y="298.7" font-size="8.0" text-anchor="end" fill="#111" stroke-width="0.12" >0.4</text>
<line x1="366.6" y1="323.55" x2="369.5" y2="323.55" stroke="#888" stroke-width="0.7"/>
<text x="363.5" y="326.75" font-size="8.0" text-anchor="end" fill="#111" stroke-width="0.12" >0.3</text>
<line x1="366.6" y1="351.60" x2="369.5" y2="351.60" stroke="#888" stroke-width="0.7"/>
<text x="363.5" y="354.79999999999995" font-size="8.0" text-anchor="end" fill="#111" stroke-width="0.12" >0.2</text>
<line x1="366.6" y1="379.65" x2="369.5" y2="379.65" stroke="#888" stroke-width="0.7"/>
<text x="363.5" y="382.84999999999997" font-size="8.0" text-anchor="end" fill="#111" stroke-width="0.12" >0.1</text>
<line x1="366.6" y1="407.70" x2="369.5" y2="407.70" stroke="#888" stroke-width="0.7"/>
<text x="363.5" y="410.9" font-size="8.0" text-anchor="end" fill="#111" stroke-width="0.12" >0.0</text>
<line x1="366.6" y1="416.12" x2="369.5" y2="416.12" stroke="#888" stroke-width="0.7"/>
<text x="363.5" y="419.315" font-size="7.4" text-anchor="end" fill="#111" stroke-width="0.12" >-0.03</text>
<line x1="369.5" y1="417.2" x2="369.5" y2="420.2" stroke="#888" stroke-width="0.7"/>
<line x1="399.30" y1="417.2" x2="399.30" y2="420.2" stroke="#888" stroke-width="0.7"/>
<text x="399.3" y="429.3" font-size="7.2" text-anchor="middle" fill="#111" stroke-width="0.3" >10</text>
<line x1="428.87" y1="417.2" x2="428.87" y2="420.2" stroke="#888" stroke-width="0.7"/>
<text x="428.87" y="429.3" font-size="7.2" text-anchor="middle" fill="#111" stroke-width="0.3" >100</text>
<line x1="458.44" y1="417.2" x2="458.44" y2="420.2" stroke="#888" stroke-width="0.7"/>
<text x="458.44" y="429.3" font-size="7.2" text-anchor="middle" fill="#111" stroke-width="0.3" >1000</text>
<line x1="488.01" y1="417.2" x2="488.01" y2="420.2" stroke="#888" stroke-width="0.7"/>
<text x="488.01" y="429.3" font-size="7.2" text-anchor="middle" fill="#111" stroke-width="0.3" >10000</text>
<text x="370.3" y="429.3" font-size="7.2" text-anchor="middle" fill="#111" stroke-width="0.3" >0</text>
<rect x="372.5" y="415.5" width="7" height="3.5" fill="#fff"/>
<path d="M373.3,419.3 L376.3,415.3 M376.3,419.3 L379.3,415.3" stroke="#777" stroke-width="0.6"/>
<text x="428.8" y="438.5" font-size="7.3" text-anchor="middle" fill="#111" stroke-width="0.3" >[Topo IIα CTR] (nM)</text>
<text x="0" y="0" font-size="7.2" fill="#111" stroke-width="0.25" transform="translate(349.3,365) rotate(-90)">A<tspan font-size="3.8" dy="1.3">405</tspan><tspan dy="-1.3"> (AU)</tspan></text>
<path d="M378.63,380.47 L380.07,380.28 L381.52,380.06 L382.96,379.82 L384.40,379.56 L385.84,379.28 L387.29,378.97 L388.73,378.64 L390.17,378.28 L391.62,377.89 L393.06,377.47 L394.50,377.01 L395.94,376.52 L397.39,376.00 L398.83,375.44 L400.27,374.85 L401.71,374.21 L403.16,373.54 L404.60,372.83 L406.04,372.09 L407.49,371.31 L408.93,370.50 L410.37,369.66 L411.81,368.79 L413.26,367.89 L414.70,366.98 L416.14,366.05 L417.58,365.10 L419.03,364.15 L420.47,363.19 L421.91,362.23 L423.35,361.29 L424.80,360.35 L426.24,359.43 L427.68,358.52 L429.13,357.65 L430.57,356.80 L432.01,355.97 L433.45,355.19 L434.90,354.43 L436.34,353.71 L437.78,353.03 L439.22,352.39 L440.67,351.78 L442.11,351.21 L443.55,350.67 L444.99,350.18 L446.44,349.71 L447.88,349.28 L449.32,348.88 L450.77,348.51 L452.21,348.17 L453.65,347.85 L455.09,347.56 L456.54,347.30 L457.98,347.05 L459.42,346.83 L460.86,346.63 L462.31,346.44 L463.75,346.27 L465.19,346.11 L466.63,345.97 L468.08,345.84 L469.52,345.73 L470.96,345.62 L472.41,345.52 L473.85,345.44 L475.29,345.36 L476.73,345.28 L478.18,345.22 L479.62,345.16 L481.06,345.10 L482.50,345.05 L483.95,345.01 L485.39,344.97 L486.83,344.93 L488.28,344.90 L489.72,344.87 L491.16,344.84 L492.60,344.82 L494.05,344.80" fill="none" stroke="#aaa" stroke-width="1"/>
<path d="M378.63,387.74 L380.07,387.42 L381.52,387.08 L382.96,386.71 L384.40,386.33 L385.84,385.92 L387.29,385.48 L388.73,385.02 L390.17,384.53 L391.62,384.01 L393.06,383.46 L394.50,382.88 L395.94,382.27 L397.39,381.63 L398.83,380.95 L400.27,380.23 L401.71,379.49 L403.16,378.70 L404.60,377.88 L406.04,377.02 L407.49,376.13 L408.93,375.20 L410.37,374.23 L411.81,373.23 L413.26,372.19 L414.70,371.12 L416.14,370.01 L417.58,368.88 L419.03,367.71 L420.47,366.52 L421.91,365.31 L423.35,364.07 L424.80,362.81 L426.24,361.54 L427.68,360.26 L429.13,358.96 L430.57,357.66 L432.01,356.35 L433.45,355.05 L434.90,353.75 L436.34,352.45 L437.78,351.17 L439.22,349.90 L440.67,348.65 L442.11,347.42 L443.55,346.21 L444.99,345.02 L446.44,343.87 L447.88,342.74 L449.32,341.64 L450.77,340.58 L452.21,339.55 L453.65,338.55 L455.09,337.60 L456.54,336.67 L457.98,335.79 L459.42,334.94 L460.86,334.13 L462.31,333.35 L463.75,332.61 L465.19,331.90 L466.63,331.23 L468.08,330.60 L469.52,329.99 L470.96,329.42 L472.41,328.88 L473.85,328.37 L475.29,327.88 L476.73,327.43 L478.18,327.00 L479.62,326.59 L481.06,326.21 L482.50,325.86 L483.95,325.52 L485.39,325.21 L486.83,324.91 L488.28,324.63 L489.72,324.37 L491.16,324.13 L492.60,323.90 L494.05,323.69" fill="none" stroke="#555" stroke-width="1"/>
<path d="M378.63,396.96 L380.07,396.58 L381.52,396.16 L382.96,395.71 L384.40,395.21 L385.84,394.67 L387.29,394.08 L388.73,393.44 L390.17,392.74 L391.62,391.97 L393.06,391.15 L394.50,390.26 L395.94,389.29 L397.39,388.25 L398.83,387.14 L400.27,385.94 L401.71,384.66 L403.16,383.30 L404.60,381.85 L406.04,380.31 L407.49,378.69 L408.93,376.99 L410.37,375.21 L411.81,373.35 L413.26,371.42 L414.70,369.42 L416.14,367.37 L417.58,365.27 L419.03,363.13 L420.47,360.96 L421.91,358.77 L423.35,356.57 L424.80,354.38 L426.24,352.20 L427.68,350.05 L429.13,347.93 L430.57,345.85 L432.01,343.83 L433.45,341.88 L434.90,339.99 L436.34,338.17 L437.78,336.43 L439.22,334.78 L440.67,333.21 L442.11,331.72 L443.55,330.32 L444.99,329.01 L446.44,327.78 L447.88,326.63 L449.32,325.56 L450.77,324.56 L452.21,323.64 L453.65,322.78 L455.09,322.00 L456.54,321.27 L457.98,320.60 L459.42,319.99 L460.86,319.43 L462.31,318.91 L463.75,318.44 L465.19,318.01 L466.63,317.62 L468.08,317.26 L469.52,316.93 L470.96,316.64 L472.41,316.36 L473.85,316.12 L475.29,315.89 L476.73,315.69 L478.18,315.51 L479.62,315.34 L481.06,315.19 L482.50,315.05 L483.95,314.92 L485.39,314.81 L486.83,314.71 L488.28,314.62 L489.72,314.53 L491.16,314.46 L492.60,314.39 L494.05,314.32" fill="none" stroke="#111" stroke-width="1" stroke-dasharray="1.6,1.2"/>
<path d="M378.63,407.70 L380.07,407.70 L381.52,407.70 L382.96,407.70 L384.40,407.70 L385.84,407.70 L387.29,407.70 L388.73,407.70 L390.17,407.70 L391.62,407.69 L393.06,407.68 L394.50,407.67 L395.94,407.64 L397.39,407.60 L398.83,407.51 L400.27,407.35 L401.71,407.06 L403.16,406.55 L404.60,405.68 L406.04,404.29 L407.49,402.25 L408.93,399.68 L410.37,396.93 L411.81,394.50 L413.26,392.66 L414.70,391.45 L416.14,390.71 L417.58,390.28 L419.03,390.04 L420.47,389.91 L421.91,389.83 L423.35,389.79 L424.80,389.77 L426.24,389.76 L427.68,389.76 L429.13,389.75 L430.57,389.75 L432.01,389.75 L433.45,389.75 L434.90,389.75 L436.34,389.75 L437.78,389.75 L439.22,389.75 L440.67,389.75 L442.11,389.75 L443.55,389.75 L444.99,389.75 L446.44,389.75 L447.88,389.75 L449.32,389.75 L450.77,389.75 L452.21,389.75 L453.65,389.75 L455.09,389.75 L456.54,389.75 L457.98,389.75 L459.42,389.75 L460.86,389.75 L462.31,389.75 L463.75,389.75 L465.19,389.75 L466.63,389.75 L468.08,389.75 L469.52,389.75 L470.96,389.75 L472.41,389.75 L473.85,389.75 L475.29,389.75 L476.73,389.75 L478.18,389.75 L479.62,389.75 L481.06,389.75 L482.50,389.75 L483.95,389.75 L485.39,389.75 L486.83,389.75 L488.28,389.75 L489.72,389.75 L491.16,389.75 L492.60,389.75 L494.05,389.75" fill="none" stroke="#111" stroke-width="1.3" stroke-dasharray="1.6,1"/>
<line x1="372" y1="299.5" x2="382.5" y2="299.5" stroke="#555" stroke-width="0.9" />
<text x="387" y="301.5" font-size="5.45" text-anchor="start" fill="#222" stroke-width="0.12" >H3 21-44</text>
<line x1="372" y1="305.7" x2="382.5" y2="305.7" stroke="#111" stroke-width="0.9" stroke-dasharray="1.6,1.2"/>
<text x="387" y="307.7" font-size="5.45" text-anchor="start" fill="#222" stroke-width="0.12" >H3 21-44 K27me1</text>
<line x1="372" y1="311.8" x2="382.5" y2="311.8" stroke="#aaa" stroke-width="0.9" />
<text x="387" y="313.8" font-size="5.45" text-anchor="start" fill="#222" stroke-width="0.12" >H3 21-44 K27me3</text>
<line x1="372" y1="318.4" x2="382.5" y2="318.4" stroke="#111" stroke-width="0.9" stroke-dasharray="1.6,1"/>
<text x="387" y="320.4" font-size="5.45" text-anchor="start" fill="#222" stroke-width="0.12" >H3 21-44 phospho-S28</text>
<ellipse cx="377.30" cy="299.50" rx="1.5" ry="1.2" fill="none" stroke="#555" stroke-width="0.6"/>
<ellipse cx="377.30" cy="305.70" rx="1.5" ry="1.2" fill="none" stroke="#555" stroke-width="0.6"/>
<path d="M375.50,311.80 H379.10 M377.30,310.00 V313.60" stroke="#555" stroke-width="0.6"/>
<path d="M375.70,316.80 L378.90,320.00 M378.90,316.80 L375.70,320.00" stroke="#555" stroke-width="0.6"/>
<path d="M389.45,375.16 H393.05 M391.25,373.36 V376.96" stroke="#555" stroke-width="0.6"/>
<ellipse cx="391.25" cy="389.19" rx="1.5" ry="1.2" fill="none" stroke="#555" stroke-width="0.6"/>
<path d="M391.25,398.53 L392.85,401.23 L389.65,401.23 Z" fill="none" stroke="#555" stroke-width="0.6"/>
<path d="M389.65,410.59 L392.85,413.79 M392.85,410.59 L389.65,413.79" stroke="#555" stroke-width="0.6"/>
<ellipse cx="412.00" cy="364.22" rx="1.5" ry="1.2" fill="none" stroke="#555" stroke-width="0.6"/>
<ellipse cx="412.00" cy="368.43" rx="1.5" ry="1.2" fill="none" stroke="#555" stroke-width="0.6"/>
<path d="M410.20,371.24 H413.80 M412.00,369.44 V373.04" stroke="#555" stroke-width="0.6"/>
<path d="M410.40,368.23 L413.60,371.43 M413.60,368.23 L410.40,371.43" stroke="#555" stroke-width="0.6"/>
<ellipse cx="432.50" cy="341.78" rx="1.5" ry="1.2" fill="none" stroke="#555" stroke-width="0.6"/>
<path d="M430.70,353.56 H434.30 M432.50,351.76 V355.36" stroke="#555" stroke-width="0.6"/>
<ellipse cx="432.50" cy="354.40" rx="1.5" ry="1.2" fill="none" stroke="#555" stroke-width="0.6"/>
<path d="M430.90,389.27 L434.10,392.47 M434.10,389.27 L430.90,392.47" stroke="#555" stroke-width="0.6"/>
<path d="M453.00,334.01 L454.60,336.71 L451.40,336.71 Z" fill="none" stroke="#555" stroke-width="0.6"/>
<ellipse cx="453.00" cy="348.79" rx="1.5" ry="1.2" fill="none" stroke="#555" stroke-width="0.6"/>
<path d="M451.20,351.60 H454.80 M453.00,349.80 V353.40" stroke="#555" stroke-width="0.6"/>
<path d="M451.40,378.61 L454.60,381.81 M454.60,378.61 L451.40,381.81" stroke="#555" stroke-width="0.6"/>
<path d="M473.60,296.70 L475.20,299.40 L472.00,299.40 Z" fill="none" stroke="#555" stroke-width="0.6"/>
<ellipse cx="473.60" cy="323.55" rx="1.5" ry="1.2" fill="none" stroke="#555" stroke-width="0.6"/>
<path d="M471.80,345.15 H475.40 M473.60,343.35 V346.95" stroke="#555" stroke-width="0.6"/>
<path d="M472.00,379.45 L475.20,382.65 M475.20,379.45 L472.00,382.65" stroke="#555" stroke-width="0.6"/>
<path d="M485.00,316.34 L486.60,319.04 L483.40,319.04 Z" fill="none" stroke="#555" stroke-width="0.6"/>
<ellipse cx="485.00" cy="323.55" rx="1.5" ry="1.2" fill="none" stroke="#555" stroke-width="0.6"/>
<path d="M483.20,344.87 H486.80 M485.00,343.07 V346.67" stroke="#555" stroke-width="0.6"/>
<path d="M483.40,401.33 L486.60,404.53 M486.60,401.33 L483.40,404.53" stroke="#555" stroke-width="0.6"/>
<path d="M494.00,313.53 L495.60,316.24 L492.40,316.24 Z" fill="none" stroke="#555" stroke-width="0.6"/>
<ellipse cx="494.00" cy="326.36" rx="1.5" ry="1.2" fill="none" stroke="#555" stroke-width="0.6"/>
<path d="M492.20,344.31 H495.80 M494.00,342.51 V346.11" stroke="#555" stroke-width="0.6"/>
<path d="M492.40,389.27 L495.60,392.47 M495.60,389.27 L492.40,392.47" stroke="#555" stroke-width="0.6"/>
<ellipse cx="370.70" cy="390.87" rx="1.5" ry="1.2" fill="none" stroke="#555" stroke-width="0.6"/>
<path d="M370.70,390.67 L372.30,393.37 L369.10,393.37 Z" fill="none" stroke="#555" stroke-width="0.6"/>
<path d="M368.90,393.68 H372.50 M370.70,391.88 V395.48" stroke="#555" stroke-width="0.6"/>
<path d="M369.10,401.89 L372.30,405.09 M372.30,401.89 L369.10,405.09" stroke="#555" stroke-width="0.6"/>
</svg>
</body></html>
